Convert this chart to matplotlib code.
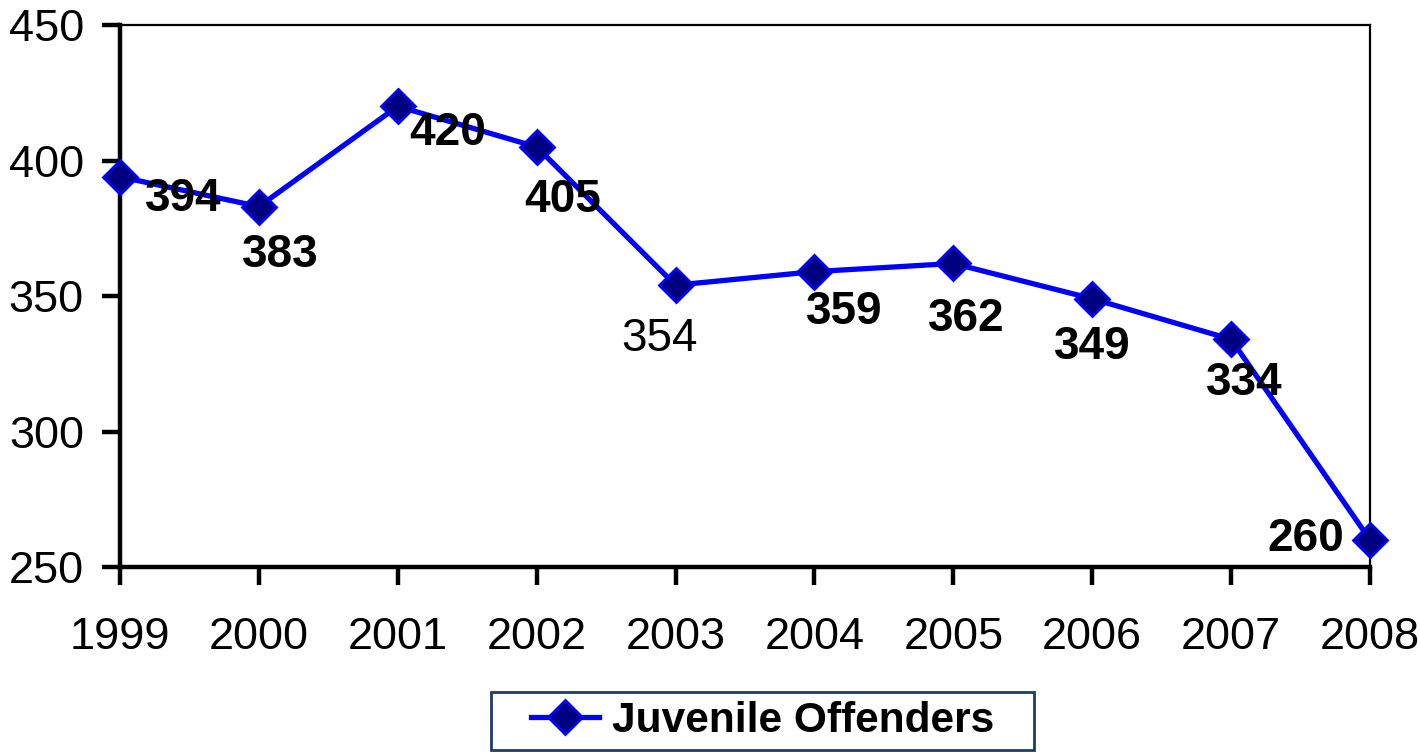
import matplotlib
matplotlib.use("Agg")
import matplotlib.pyplot as plt
from matplotlib.lines import Line2D
from matplotlib.patches import Rectangle

plt.rcParams['font.family'] = ['Liberation Sans', 'DejaVu Sans']

years = [1999, 2000, 2001, 2002, 2003, 2004, 2005, 2006, 2007, 2008]
values = [394, 383, 420, 405, 354, 359, 362, 349, 334, 260]
series_name = "Juvenile Offenders"
y_ticks = [250, 300, 350, 400, 450]

# label offsets in pixels (dx right, dy down) and weights -- styling only
label_offsets = [(63, 22), (21, 48), (50, 27), (26, 53), (-16, 54),
                 (30, 40), (13, 56), (0, 48), (13, 44), (-64, -1)]
label_bold = [True, True, True, True, False, True, True, True, True, True]

fig = plt.figure(figsize=(14.2, 7.52), dpi=100)
ax = fig.add_axes([120/1420, 1-567/752, (1370-120)/1420, (567-25)/752])

line_color = '#0000FF'
marker_face = '#000080'
ax.plot(years, values, color=line_color, lw=3.8, marker='D', markersize=17,
        markerfacecolor=marker_face, markeredgecolor=line_color, markeredgewidth=2,
        clip_on=False, zorder=3)

px = 0.72
for x, v, (dx, dy), b in zip(years, values, label_offsets, label_bold):
    ax.annotate(str(v), (x, v), xytext=(dx*px, -dy*px), textcoords='offset points',
                ha='center', va='center', fontsize=33,
                fontweight='bold' if b else 'normal', zorder=4)

ax.set_xlim(1999, 2008)
ax.set_ylim(250, 450)
ax.set_xticks(years)
ax.set_xticklabels([str(y) for y in years])
ax.set_yticks(y_ticks)
ax.set_yticklabels([str(t) for t in y_ticks])

for s in ['left', 'bottom']:
    ax.spines[s].set_linewidth(3.2)
for s in ['top', 'right']:
    ax.spines[s].set_linewidth(1.6)
ax.tick_params(axis='both', direction='out', length=13, width=3.2, labelsize=32.5)
ax.tick_params(axis='y', pad=13)
ax.tick_params(axis='x', pad=23)

# legend box
fig.patches.append(Rectangle((491/1420, 1-750/752), (1034-491)/1420, (750-692)/752,
                             transform=fig.transFigure, fill=False,
                             edgecolor='#1F3B66', linewidth=2, zorder=5))
handle = Line2D([], [], color=line_color, lw=3.8, marker='D', markersize=17,
                markerfacecolor=marker_face, markeredgecolor=line_color, markeredgewidth=2)
leg = fig.legend([handle], [series_name], loc='center', bbox_to_anchor=(762.5/1420, 1-721/752),
                 frameon=False, handlelength=1.6,
                 prop={'weight': 'bold', 'size': 30.5}, borderpad=0.0, handletextpad=0.3)

fig.savefig('out.png', dpi=100)
